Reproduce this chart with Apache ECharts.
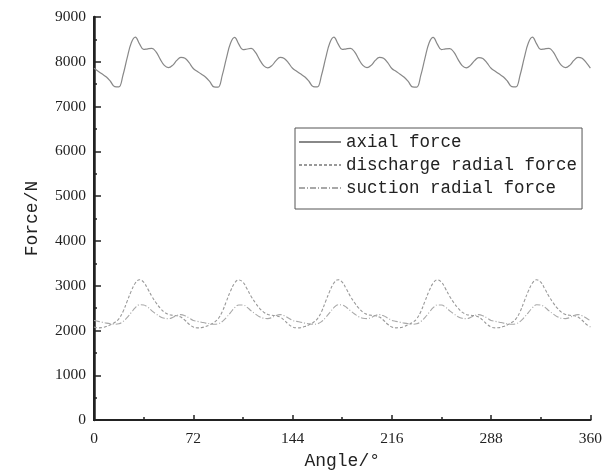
<!DOCTYPE html>
<html>
<head>
<meta charset="utf-8">
<script src="https://cdn.jsdelivr.net/npm/echarts@6/dist/echarts.min.js"></script>
<style>html,body{margin:0;padding:0;background:#fff;}#c{width:605px;height:475px;}</style>
</head>
<body>
<div id="c"></div>
<script>
// Angles 0..360 step 3
const angles = [];
for (let a = 0; a <= 360; a += 3) angles.push(a);

const axialForce = [
  7855,7790,7725,7660,7560,7445,7440,7700,8080,8420,8550,8400,8275,8290,8300,8220,8060,7920,7870,7920,8030,8100,8080,7980,
  7850,7785,7720,7655,7555,7440,7435,7695,8075,8415,8545,8395,8270,8285,8300,8215,8055,7915,7865,7915,8025,8100,8075,7975,
  7855,7790,7725,7660,7560,7445,7440,7700,8080,8420,8550,8400,8275,8290,8300,8220,8060,7920,7870,7920,8030,8100,8080,7980,
  7850,7790,7720,7655,7555,7440,7435,7695,8075,8420,8545,8395,8270,8290,8295,8215,8055,7915,7865,7920,8025,8095,8075,7975,
  7855,7790,7725,7660,7560,7445,7440,7700,8080,8420,8550,8400,8275,8290,8300,8220,8060,7920,7870,7920,8030,8100,8080,7980,
  7860
];
const dischargeRadial = [
  2080,2060,2065,2090,2130,2180,2260,2420,2650,2880,3060,3135,3080,2930,2760,2620,2500,2410,2360,2340,2330,2300,2230,2140,
  2080,2060,2065,2090,2130,2180,2260,2420,2650,2880,3060,3130,3080,2930,2760,2620,2500,2410,2360,2340,2330,2300,2230,2140,
  2080,2060,2065,2090,2130,2180,2260,2420,2650,2880,3060,3135,3080,2930,2760,2620,2500,2410,2360,2340,2330,2300,2230,2140,
  2080,2060,2065,2090,2130,2180,2260,2420,2650,2880,3060,3130,3080,2930,2760,2620,2500,2410,2360,2340,2330,2300,2230,2140,
  2080,2060,2065,2090,2130,2180,2260,2420,2650,2880,3060,3135,3080,2930,2760,2620,2500,2410,2360,2340,2330,2300,2230,2140,
  2080
];
const suctionRadial = [
  2225,2205,2185,2165,2150,2140,2150,2200,2290,2400,2510,2575,2570,2520,2440,2370,2310,2275,2265,2290,2335,2355,2330,2280,
  2225,2205,2185,2165,2150,2140,2150,2200,2290,2400,2510,2570,2570,2520,2440,2370,2310,2275,2265,2290,2335,2355,2330,2280,
  2225,2205,2185,2165,2150,2140,2150,2200,2290,2400,2510,2575,2570,2520,2440,2370,2310,2275,2265,2290,2335,2355,2330,2280,
  2225,2205,2185,2165,2150,2140,2150,2200,2290,2400,2510,2570,2570,2520,2440,2370,2310,2275,2265,2290,2335,2355,2330,2280,
  2225,2205,2185,2165,2150,2140,2150,2200,2290,2400,2510,2575,2570,2520,2440,2370,2310,2275,2265,2290,2335,2355,2330,2280,
  2215
];
const seriesNames = ['axial force', 'discharge radial force', 'suction radial force'];

const pairs = arr => arr.map((v, i) => [angles[i], v]);

const chart = echarts.init(document.getElementById('c'), null, {renderer: 'canvas'});
const serif = 'Liberation Serif';
const mono = 'Liberation Mono';
chart.setOption({
  animation: false,
  backgroundColor: '#fff',
  grid: {left: 94, right: 11, top: 17, bottom: 54},
  legend: {
    orient: 'vertical',
    left: 295, top: 128,
    itemWidth: 42, itemHeight: 10, itemGap: 5,
    padding: [5, 5, 12, 3],
    borderColor: '#555', borderWidth: 1,
    itemStyle: {opacity: 0},
    textStyle: {fontFamily: mono, fontSize: 17.5, color: '#222'},
    data: seriesNames
  },
  xAxis: [{
    type: 'value', min: 0, max: 360, interval: 72,
    name: 'Angle/°', nameLocation: 'middle', nameGap: 30,
    nameTextStyle: {fontFamily: mono, fontSize: 18, color: '#222'},
    axisLine: {lineStyle: {color: '#222', width: 2}},
    axisTick: {inside: true, length: 5, lineStyle: {color: '#222', width: 1.5}},
    minorTick: {show: true, splitNumber: 2, length: 3, lineStyle: {color: '#222', width: 1.5}},
    axisLabel: {fontFamily: serif, fontSize: 15.5, color: '#222', margin: 11},
    splitLine: {show: false}
  }, {
    type: 'value', min: 0, max: 360, position: 'top',
    axisLine: {show: true, lineStyle: {color: '#222', width: 2}},
    axisTick: {show: false}, axisLabel: {show: false}, splitLine: {show: false}
  }],
  yAxis: [{
    type: 'value', min: 0, max: 9000, interval: 1000,
    name: 'Force/N', nameLocation: 'middle', nameGap: 53, nameRotate: 90,
    nameTextStyle: {fontFamily: mono, fontSize: 18, color: '#222'},
    axisLine: {show: true, lineStyle: {color: '#222', width: 2}},
    axisTick: {show: true, inside: true, length: 7, lineStyle: {color: '#222', width: 1.5}},
    minorTick: {show: true, splitNumber: 2, length: 3, lineStyle: {color: '#222', width: 1.5}},
    axisLabel: {fontFamily: serif, fontSize: 15.5, color: '#222', margin: 8,
      formatter: v => String(v)},
    splitLine: {show: false}
  }, {
    type: 'value', min: 0, max: 9000, position: 'right',
    axisLine: {show: true, lineStyle: {color: '#222', width: 2.5}},
    axisTick: {show: false}, axisLabel: {show: false}, splitLine: {show: false}
  }],
  series: [{
    name: seriesNames[0], type: 'line', smooth: 0.4, symbol: 'none',
    lineStyle: {color: '#888', width: 1.2, type: 'solid'},
    itemStyle: {color: '#888'},
    data: pairs(axialForce)
  }, {
    name: seriesNames[1], type: 'line', smooth: 0.4, symbol: 'none',
    lineStyle: {color: '#999', width: 1.1, type: [3, 2]},
    itemStyle: {color: '#999'},
    data: pairs(dischargeRadial)
  }, {
    name: seriesNames[2], type: 'line', smooth: 0.4, symbol: 'none',
    lineStyle: {color: '#a8a8a8', width: 1.1, type: [6, 2, 1, 2]},
    itemStyle: {color: '#a8a8a8'},
    data: pairs(suctionRadial)
  }]
});
</script>
</body>
</html>
